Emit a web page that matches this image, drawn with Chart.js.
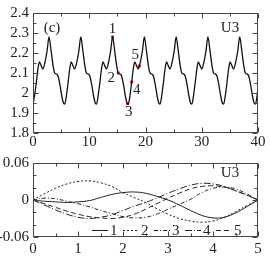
<!DOCTYPE html>
<html><head><meta charset="utf-8">
<script src="https://cdn.jsdelivr.net/npm/chart.js@4/dist/chart.umd.min.js"></script>
<style>
html,body{margin:0;padding:0;background:#fff;width:270px;height:257px;overflow:hidden}
canvas{position:absolute;left:0}
</style></head><body>
<canvas id="c1" width="270" height="150" style="top:0"></canvas>
<canvas id="c2" width="270" height="107" style="top:150px"></canvas>
<script>
// ---------- top panel data ----------
const timeX = [
0,0.3,0.6,0.9,1.15,1.45,1.75,2.1,2.5,2.85,3.2,3.55,3.85,4.15,4.45,4.8,5.15,5.45,
5.65,5.95,6.25,6.55,6.8,7.1,7.4,7.75,8.15,8.5,8.85,9.2,9.5,9.8,10.1,10.45,10.8,11.1,
11.3,11.6,11.9,12.2,12.45,12.75,13.05,13.4,13.8,14.15,14.5,14.85,15.15,15.45,15.75,16.1,16.45,16.75,
16.95,17.25,17.55,17.85,18.1,18.4,18.7,19.05,19.45,19.8,20.15,20.5,20.8,21.1,21.4,21.75,22.1,22.4,
22.6,22.9,23.2,23.5,23.75,24.05,24.35,24.7,25.1,25.45,25.8,26.15,26.45,26.75,27.05,27.4,27.75,28.05,
28.25,28.55,28.85,29.15,29.4,29.7,30.0,30.35,30.75,31.1,31.45,31.8,32.1,32.4,32.7,33.05,33.4,33.7,
33.9,34.2,34.5,34.8,35.05,35.35,35.65,36.0,36.4,36.75,37.1,37.45,37.75,38.05,38.35,38.7,39.05,39.35,
39.55,39.85,40];
const signalU3 = [
1.945,1.99,2.055,2.125,2.155,2.137,2.12,2.15,2.21,2.28,2.215,2.14,2.10,2.095,2.085,2.04,1.98,1.948,
1.945,1.99,2.055,2.125,2.155,2.137,2.12,2.15,2.21,2.28,2.215,2.14,2.10,2.095,2.085,2.04,1.98,1.948,
1.945,1.99,2.055,2.125,2.155,2.137,2.12,2.15,2.21,2.28,2.215,2.14,2.10,2.095,2.085,2.04,1.98,1.948,
1.945,1.99,2.055,2.125,2.155,2.137,2.12,2.15,2.21,2.28,2.215,2.14,2.10,2.095,2.085,2.04,1.98,1.948,
1.945,1.99,2.055,2.125,2.155,2.137,2.12,2.15,2.21,2.28,2.215,2.14,2.10,2.095,2.085,2.04,1.98,1.948,
1.945,1.99,2.055,2.125,2.155,2.137,2.12,2.15,2.21,2.28,2.215,2.14,2.10,2.095,2.085,2.04,1.98,1.948,
1.945,1.99,2.055,2.125,2.155,2.137,2.12,2.15,2.21,2.28,2.215,2.14,2.10,2.095,2.085,2.04,1.98,1.948,
1.945,1.99,2.03];
const markerX = [14.15,15.15,16.83,17.55,18.9];
const markerY = [2.28,2.10,1.947,2.055,2.135];
const markerLabels = ['1','2','3','4','5'];
const topXTicks = [0,10,20,30,40];
const topXMinor = [5,15,25,35];
const topYTicks = [1.8,1.9,2,2.1,2.2,2.3,2.4];
const topYMinor = [1.85,1.95,2.05,2.15,2.25,2.35];

// ---------- bottom panel data ----------
const modeX = [0,0.25,0.5,0.75,1,1.25,1.5,1.75,2,2.25,2.5,2.75,3,3.25,3.5,3.75,4,4.25,4.5,4.75,5];
const mode1 = [0,-0.002,-0.003,-0.004,-0.003,-0.001,0.004,0.009,0.012,0.013,0.011,0.006,0,-0.008,-0.017,-0.025,-0.029,-0.028,-0.021,-0.011,0];
const mode2 = [0,0.010,0.019,0.026,0.030,0.031,0.028,0.022,0.012,0.004,-0.004,-0.014,-0.023,-0.030,-0.034,-0.036,-0.034,-0.028,-0.019,-0.009,0];
const mode3 = [0,0.003,0.002,-0.002,-0.006,-0.011,-0.017,-0.022,-0.027,-0.029,-0.028,-0.023,-0.015,-0.007,0.001,0.012,0.019,0.021,0.018,0.010,0];
const mode4 = [0,-0.008,-0.016,-0.023,-0.028,-0.030,-0.028,-0.024,-0.017,-0.010,-0.004,0.003,0.011,0.018,0.024,0.027,0.026,0.022,0.015,0.008,0];
const mode5 = [0,-0.006,-0.012,-0.018,-0.023,-0.027,-0.029,-0.030,-0.028,-0.023,-0.015,-0.006,0.003,0.011,0.018,0.022,0.023,0.021,0.015,0.008,0];
const modeLabels = ['1','2','3','4','5'];
const bottomXTicks = [0,1,2,3,4,5];
const bottomXMinor = [0.5,1.5,2.5,3.5,4.5];
const bottomYTicks = [-0.06,0,0.06];
const bottomYMinor = [-0.04,-0.02,0.02,0.04];

const FONT = '"Liberation Serif", "Times New Roman", serif';
const INK = '#222';
const modeDashes = [[], [2,2], [4,2,1,2], [7,2,1,2], [5,3]];

const frameTicks = {
  id: 'frameTicks',
  afterDraw(chart, args, o) {
    const {ctx, chartArea: a, scales: {x, y}} = chart;
    ctx.save();
    ctx.strokeStyle = '#444';
    ctx.lineWidth = 1;
    ctx.setLineDash([]);
    const L = Math.round(a.left) + 0.5, R = Math.round(a.right) - 0.5;
    const T = Math.round(a.top) + 0.5, B = Math.round(a.bottom) - 0.5;
    ctx.strokeRect(L, T, R - L, B - T);
    ctx.beginPath();
    const xt = (vals, len) => vals.forEach(v => {
      const p = Math.round(x.getPixelForValue(v)) + 0.5;
      ctx.moveTo(p, B); ctx.lineTo(p, B - len);
      ctx.moveTo(p, T); ctx.lineTo(p, T + len);
    });
    const yt = (vals, len) => vals.forEach(v => {
      const p = Math.round(y.getPixelForValue(v)) + 0.5;
      ctx.moveTo(L, p); ctx.lineTo(L + len, p);
      ctx.moveTo(R, p); ctx.lineTo(R - len, p);
    });
    xt(o.xMajor, 5); xt(o.xMinor, 3); yt(o.yMajor, 5); yt(o.yMinor, 3);
    ctx.stroke();
    ctx.restore();
  }
};

const annot = {
  id: 'annot',
  afterDraw(chart, args, o) {
    const {ctx, chartArea: a, scales: {x, y}} = chart;
    ctx.save();
    ctx.fillStyle = INK;
    ctx.font = '15px ' + FONT;
    ctx.textAlign = 'center';
    ctx.textBaseline = 'middle';
    (o.texts || []).forEach(t => ctx.fillText(t.s, a.left + t.dx, a.top + t.dy));
    if (o.markers) {
      const offs = [[0,-8],[-7,5],[1,8],[5,8],[-4,-11]];
      markerLabels.forEach((s, i) => {
        ctx.fillText(s, x.getPixelForValue(markerX[i]) + offs[i][0], y.getPixelForValue(markerY[i]) + offs[i][1]);
      });
    }
    if (o.legend) {
      const yy = a.bottom - 7;
      let xx = 92;
      ctx.strokeStyle = INK;
      ctx.lineWidth = 1;
      ctx.textAlign = 'left';
      modeLabels.forEach((s, i) => {
        ctx.setLineDash(modeDashes[i]);
        ctx.beginPath();
        ctx.moveTo(xx, yy + 0.5); ctx.lineTo(xx + 16, yy + 0.5);
        ctx.stroke();
        ctx.fillText(s, xx + 18, yy + 1);
        xx += 31;
      });
    }
    ctx.restore();
  }
};

function axis(ticks, min, max, fit, pad) {
  return {
    type: 'linear', min, max,
    grid: {display: false, drawTicks: false},
    border: {display: false},
    afterBuildTicks: s => { s.ticks = ticks.map(v => ({value: v})); },
    afterFit: fit,
    ticks: {color: INK, font: {family: FONT, size: 15}, padding: pad, autoSkip: false, maxRotation: 0,
      callback: v => String(v)}
  };
}

new Chart(document.getElementById('c1'), {
  type: 'line',
  data: {
    datasets: [
      {data: timeX.map((t, i) => ({x: t, y: signalU3[i]})), borderColor: '#111', borderWidth: 1.3,
       pointRadius: 0, cubicInterpolationMode: 'monotone', fill: false},
      {data: markerX.map((t, i) => ({x: t, y: markerY[i]})), showLine: false, pointStyle: 'rect',
       pointRadius: 2, backgroundColor: '#e00000', borderColor: '#e00000', borderWidth: 0}
    ]
  },
  options: {
    responsive: false, animation: false,
    layout: {padding: {top: 7, right: 12, left: 0, bottom: 0}},
    plugins: {legend: {display: false}, tooltip: {enabled: false},
      frameTicks: {xMajor: topXTicks, xMinor: topXMinor, yMajor: topYTicks, yMinor: topYMinor},
      annot: {markers: true, texts: [{s: '(c)', dx: 19, dy: 15}, {s: 'U3', dx: 197, dy: 15}]}},
    scales: {
      x: axis(topXTicks, 0, 40, s => { s.height = 17; }, 0),
      y: axis(topYTicks, 1.8, 2.4, s => { s.width = 33; }, 4)
    }
  },
  plugins: [frameTicks, annot]
});

const modes = [mode1, mode2, mode3, mode4, mode5];
new Chart(document.getElementById('c2'), {
  type: 'line',
  data: {
    datasets: modes.map((m, k) => ({
      label: modeLabels[k],
      data: modeX.map((t, i) => ({x: t, y: m[i]})),
      borderColor: INK, borderWidth: 1, borderDash: modeDashes[k],
      pointRadius: 0, tension: 0.4, fill: false
    }))
  },
  options: {
    responsive: false, animation: false,
    layout: {padding: {top: 13, right: 12, left: 0, bottom: 0}},
    plugins: {legend: {display: false}, tooltip: {enabled: false},
      frameTicks: {xMajor: bottomXTicks, xMinor: bottomXMinor, yMajor: bottomYTicks, yMinor: bottomYMinor},
      annot: {legend: true, texts: [{s: 'U3', dx: 197, dy: 10}]}},
    scales: {
      x: axis(bottomXTicks, 0, 5, s => { s.height = 20; }, 3),
      y: axis(bottomYTicks, -0.06, 0.06, s => { s.width = 33; }, 4)
    }
  },
  plugins: [frameTicks, annot]
});
</script>
</body></html>
